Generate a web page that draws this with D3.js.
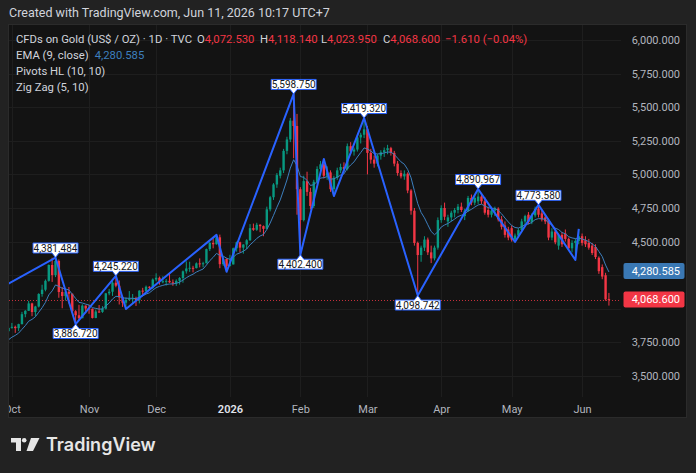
<!DOCTYPE html>
<html>
<head>
<meta charset="utf-8">
<script src="https://cdn.jsdelivr.net/npm/d3@7"></script>
<style>
  body { margin: 0; background: #222222; }
  svg { display: block; font-family: Roboto, "Noto Sans", sans-serif; }
</style>
</head>
<body>
<svg id="chart" width="696" height="473"></svg>
<script>
// ---- data ----
const firstDay = "2025-09-15";
const lastDay = "2026-06-11";
const tradingHolidays = ["2025-12-25", "2026-01-01", "2026-04-03"];

// daily bars [open, high, low, close], one per trading day
const ohlc = [
  // Sep 2025 (15 .. 30)
  [3636,3686,3633,3679],[3679,3703,3675,3690],[3690,3707,3646,3660],[3660,3672,3629,3644],
  [3644,3687,3640,3685],[3685,3749,3683,3746],[3746,3791,3736,3763],[3763,3779,3717,3736],
  [3736,3761,3722,3749],[3749,3782,3741,3760],[3760,3835,3758,3833],[3833,3871,3792,3858],
  // Oct
  [3858,3895,3852,3866],[3866,3875,3821,3856],[3856,3889,3835,3886],[3886,3977,3884,3960],
  [3960,3990,3937,3985],[3985,4059,3984,4040],[4040,4045,3945,3976],[3976,4022,3944,4017],
  [4017,4116,4010,4110],[4110,4179,4090,4142],[4142,4218,4130,4208],[4208,4330,4202,4326],
  [4326,4380,4200,4251],[4251,4381.484,4236,4356],[4356,4367,4082,4125],[4125,4162,4004,4095],
  [4095,4147,4061,4126],[4126,4162,4039,4112],[4112,4114,3970,3982],[3982,3990,3886.72,3952],
  [3952,4030,3916,3930],[3930,4034,3930,4024],[4024,4025,3967,4002],
  // Nov
  [4002,4030,3963,4000],[4000,4003,3928,3932],[3932,3994,3930,3980],[3980,4028,3970,3977],
  [3977,4020,3970,4001],[4001,4118,3995,4115],[4115,4148,4101,4127],[4127,4210,4096,4194],
  [4194,4245.22,4160,4172],[4172,4211,4032,4084],[4084,4095,4014,4045],[4045,4085,3998,4066],
  [4066,4132,4060,4077],[4077,4110,4040,4078],[4078,4090,4021,4065],[4065,4138,4040,4135],
  [4135,4156,4105,4131],[4131,4173,4125,4164],[4164,4168,4140,4156],[4156,4226,4148,4218],
  // Dec
  [4218,4264,4205,4231],[4231,4240,4180,4205],[4205,4242,4190,4205],[4205,4222,4173,4208],
  [4208,4259,4193,4197],[4197,4218,4171,4189],[4189,4219,4170,4208],[4208,4236,4180,4229],
  [4229,4285,4194,4279],[4279,4353,4262,4300],[4300,4350,4275,4305],[4305,4320,4271,4303],
  [4303,4345,4300,4338],[4338,4375,4308,4332],[4332,4350,4309,4339],[4339,4448,4338,4444],
  [4444,4497,4430,4490],[4490,4525,4450,4480],[4480,4550,4478,4532],[4532,4552,4302,4332],
  [4332,4384,4320,4372],[4372,4375,4275,4319],
  // Jan 2026
  [4319,4402,4315,4330],[4330,4455,4330,4450],[4450,4500,4425,4495],[4495,4500,4420,4455],
  [4455,4480,4410,4478],[4478,4518,4445,4510],[4510,4630,4505,4600],[4600,4634,4580,4588],
  [4588,4640,4580,4625],[4625,4630,4570,4615],[4615,4620,4540,4595],[4595,4760,4590,4740],
  [4740,4840,4725,4830],[4830,4935,4810,4925],[4925,5010,4900,4995],[4990,5050,4970,5030],
  [5030,5190,5010,5175],[5175,5280,5150,5260],[5260,5420,5240,5400],[5400,5598.75,5120,5360],
  [5360,5450,4700,4890],
  // Feb
  [4890,4905,4402.4,4660],[4660,4990,4650,4950],[4950,5020,4840,4870],[4870,4900,4740,4765],
  [4765,4960,4750,4945],[4945,5060,4930,5040],[5040,5100,5000,5075],[5075,5115,4970,4990],
  [4990,5060,4960,5015],[5015,5030,4870,4890],[4890,4990,4839,4975],[4975,5050,4960,5030],
  [5030,5080,5010,5055],[5055,5090,5020,5040],[5040,5230,5030,5210],[5210,5240,5150,5170],
  [5170,5200,5140,5185],[5185,5290,5170,5275],[5275,5310,5230,5295],[5295,5419.32,5270,5335],
  // Mar
  [5335,5360,5000,5160],[5160,5190,5080,5110],[5110,5140,5050,5080],[5080,5150,5060,5140],
  [5140,5180,5110,5165],[5165,5200,5130,5180],[5180,5220,5150,5195],[5195,5205,5140,5160],
  [5160,5175,5060,5080],[5080,5100,4990,5010],[5010,5030,4970,4985],[4985,5030,4960,5005],
  [5005,5015,4860,4880],[4880,4890,4700,4730],[4730,4750,4470,4490],[4490,4500,4098.742,4400],
  [4400,4470,4350,4455],[4455,4540,4430,4515],[4515,4530,4400,4420],[4420,4470,4340,4375],
  [4375,4470,4360,4455],[4455,4680,4440,4660],
  // Apr
  [4660,4770,4640,4750],[4750,4790,4660,4685],[4650,4700,4610,4680],[4680,4730,4650,4715],
  [4715,4750,4680,4735],[4735,4780,4710,4760],[4760,4790,4720,4735],[4690,4745,4660,4730],
  [4730,4840,4720,4825],[4825,4850,4770,4790],[4790,4850,4770,4825],[4800,4890.967,4780,4835],
  [4835,4860,4780,4800],[4800,4830,4700,4715],[4735,4760,4680,4700],[4700,4760,4680,4730],
  [4730,4760,4690,4745],[4745,4755,4650,4665],[4665,4690,4590,4610],[4620,4650,4530,4550],
  [4590,4610,4510,4530],
  // May
  [4600,4620,4500,4515],[4515,4560,4497,4545],[4545,4600,4530,4585],[4585,4670,4570,4650],
  [4650,4700,4620,4690],[4700,4720,4630,4645],[4645,4710,4630,4695],[4695,4760,4680,4745],
  [4745,4773.58,4680,4700],[4710,4730,4650,4665],[4680,4700,4630,4650],[4660,4670,4510,4530],
  [4530,4600,4510,4575],[4575,4600,4480,4495],[4470,4560,4440,4550],[4550,4570,4460,4480],
  [4560,4590,4500,4520],[4520,4530,4440,4450],[4450,4510,4420,4490],[4490,4520,4363,4505],
  [4505,4594,4480,4540],
  // Jun
  [4540,4560,4470,4490],[4510,4540,4460,4480],[4490,4520,4440,4455],[4470,4490,4400,4415],
  [4460,4480,4370,4385],[4380,4390,4260,4280],[4310,4330,4220,4240],[4250,4268,4060,4070.21],
  [4072.53,4118.14,4023.95,4068.6]
];

// zig zag (5, 10) vertices
const zigzag = [
  ["2025-09-15",4035],["2025-10-20",4381.484],["2025-10-28",3886.72],["2025-11-13",4245.22],
  ["2025-11-18",3998],["2025-12-26",4550],["2025-12-31",4275],["2026-01-29",5598.75],
  ["2026-02-02",4402.4],["2026-02-11",5115],["2026-02-16",4839],["2026-02-27",5419.32],
  ["2026-03-23",4098.742],["2026-04-17",4890.967],["2026-05-04",4497],["2026-05-13",4773.58],
  ["2026-05-28",4363],["2026-05-29",4594]
];

// pivots HL (10, 10)
const pivotHighs = [
  ["2025-10-20",4381.484],["2025-11-13",4245.22],["2026-01-29",5598.75],
  ["2026-02-27",5419.32],["2026-04-17",4890.967],["2026-05-13",4773.58]
];
const pivotLows = [["2025-10-28",3886.72],["2026-02-02",4402.4],["2026-03-23",4098.742]];

const priceTicks = [3500,3750,4000,4250,4500,4750,5000,5250,5500,5750,6000];
const lastEma = 4280.585;
const lastClose = 4068.6;
const legendOHLC = ["4,072.530","4,118.140","4,023.950","4,068.600"];
const legendChange = "\u22121.610 (\u22120.04%)";

// ---- build bars ----
const parseDay = d3.timeParse("%Y-%m-%d");
const fmtDay = d3.timeFormat("%Y-%m-%d");
const days = d3.timeDay.range(parseDay(firstDay), d3.timeDay.offset(parseDay(lastDay), 1))
  .filter(d => d.getDay() !== 0 && d.getDay() !== 6 && !tradingHolidays.includes(fmtDay(d)));

const bars = days.map((d, i) => ({
  date: d, key: fmtDay(d), i: i,
  o: ohlc[i][0], h: ohlc[i][1], l: ohlc[i][2], c: ohlc[i][3]
}));
const idxOf = new Map(bars.map(b => [b.key, b.i]));

// EMA 9 of close
let ema = null;
bars.forEach(b => { ema = ema === null ? b.c : b.c * 0.2 + ema * 0.8; b.ema = ema; });

// ---- layout ----
const W = 696, H = 473;
const pane = {x: 9, y: 25, w: 678, h: 393};
const plotRight = 621, plotBottom = 397;
const green = "#089981", red = "#f23645", zigBlue = "#2962ff", emaBlue = "#3d7fbe";
const textGrey = "#d1d4dc";

const svg = d3.select("#chart");
svg.append("rect").attr("width", W).attr("height", H).attr("fill", "#222222");
svg.append("rect")
  .attr("x", pane.x - 0.5).attr("y", pane.y - 0.5)
  .attr("width", pane.w).attr("height", pane.h)
  .attr("fill", "#131313").attr("stroke", "#2b2b2b");

const defs = svg.append("defs");
defs.append("clipPath").attr("id", "plotClip")
  .append("rect").attr("x", pane.x).attr("y", pane.y)
  .attr("width", plotRight - pane.x).attr("height", plotBottom - pane.y);
defs.append("clipPath").attr("id", "paneClip")
  .append("rect").attr("x", pane.x).attr("y", pane.y)
  .attr("width", pane.w - 1).attr("height", pane.h - 1);

const x = d3.scaleLinear()
  .domain([idxOf.get("2025-10-01"), idxOf.get("2026-06-01")])
  .range([11.9, 582.1]);
const y = d3.scaleLinear().domain([3500, 6000]).range([376, 40]);

// month ticks (first trading day of each month)
const monthStarts = bars.filter((b, k) => k > 0 && b.date >= parseDay("2025-10-01")
  && b.date.getMonth() !== bars[k - 1].date.getMonth());
const monthLabel = new Map(monthStarts.map(b =>
  [b.i, b.date.getMonth() === 0 ? d3.timeFormat("%Y")(b.date) : d3.timeFormat("%b")(b.date)]));

// grid
const grid = svg.append("g").attr("clip-path", "url(#plotClip)");
grid.selectAll(".vgrid").data(monthStarts).enter().append("line")
  .attr("x1", d => Math.round(x(d.i)) + 0.5).attr("x2", d => Math.round(x(d.i)) + 0.5)
  .attr("y1", pane.y).attr("y2", plotBottom)
  .attr("stroke", "#1e1e1e");
grid.selectAll(".hgrid").data(priceTicks).enter().append("line")
  .attr("x1", pane.x).attr("x2", plotRight)
  .attr("y1", d => Math.round(y(d)) + 0.5).attr("y2", d => Math.round(y(d)) + 0.5)
  .attr("stroke", "#1e1e1e");

const plot = svg.append("g").attr("clip-path", "url(#plotClip)");

// last price dotted line
plot.append("line")
  .attr("x1", pane.x).attr("x2", plotRight)
  .attr("y1", Math.round(y(lastClose)) + 0.5).attr("y2", Math.round(y(lastClose)) + 0.5)
  .attr("stroke", red).attr("stroke-dasharray", "1,2").attr("opacity", 0.8);

// candles
const bodyW = 2.4;
const candles = plot.selectAll(".candle").data(bars).enter().append("g");
candles.append("line")
  .attr("x1", d => x(d.i)).attr("x2", d => x(d.i))
  .attr("y1", d => y(d.h)).attr("y2", d => y(d.l))
  .attr("stroke", d => d.c >= d.o ? green : red).attr("stroke-width", 1);
candles.append("rect")
  .attr("x", d => x(d.i) - bodyW / 2)
  .attr("y", d => y(Math.max(d.o, d.c)))
  .attr("width", bodyW)
  .attr("height", d => Math.max(1, Math.abs(y(d.o) - y(d.c))))
  .attr("fill", d => d.c >= d.o ? green : red);

// EMA line
plot.append("path").datum(bars)
  .attr("d", d3.line().x(d => x(d.i)).y(d => y(d.ema)))
  .attr("fill", "none").attr("stroke", emaBlue).attr("stroke-width", 1);

// zig zag
plot.append("path").datum(zigzag)
  .attr("d", d3.line().x(d => x(idxOf.get(d[0]))).y(d => y(d[1])))
  .attr("fill", "none").attr("stroke", zigBlue).attr("stroke-width", 2)
  .attr("stroke-linejoin", "round");

// pivot labels
const fmtP = d3.format(",.3f");
function pivotLabel(d, high) {
  const g = svg.append("g")
    .attr("transform", `translate(${x(idxOf.get(d[0]))},${y(d[1])})`);
  const s = high ? -1 : 1;
  const bw = 45, bh = 10, tip = 4.5;
  const p = d3.path();
  p.moveTo(0, 0);
  p.lineTo(3.5, s * tip);
  p.lineTo(bw / 2, s * tip);
  p.lineTo(bw / 2, s * (tip + bh));
  p.lineTo(-bw / 2, s * (tip + bh));
  p.lineTo(-bw / 2, s * tip);
  p.lineTo(-3.5, s * tip);
  p.closePath();
  g.append("path").attr("d", p.toString())
    .attr("fill", "#ffffff").attr("stroke", zigBlue).attr("stroke-width", 1);
  g.append("text")
    .attr("x", 0).attr("y", s * (tip + bh / 2))
    .attr("dy", "0.35em").attr("text-anchor", "middle")
    .attr("font-size", 10).attr("fill", "#131722")
    .text(fmtP(d[1]));
}
pivotHighs.forEach(d => pivotLabel(d, true));
pivotLows.forEach(d => pivotLabel(d, false));

// x axis (clip in an outer group so the clip box stays in page coordinates)
const xAxis = svg.append("g").attr("clip-path", "url(#paneClip)")
  .append("g")
  .attr("transform", `translate(0,${plotBottom})`)
  .call(d3.axisBottom(x).tickValues(monthStarts.map(b => b.i))
    .tickFormat(i => monthLabel.get(i)).tickSize(0).tickPadding(8));
xAxis.select(".domain").remove();
xAxis.selectAll("text")
  .attr("font-family", "Roboto, sans-serif").attr("font-size", 11)
  .attr("fill", d => monthLabel.get(d).length === 4 ? "#e0e3eb" : "#b2b5be")
  .attr("font-weight", d => monthLabel.get(d).length === 4 ? 600 : 400);

// price axis; labels that sit under the value boxes are hidden as in the original
const boxed = [lastEma, lastClose];
const yAxis = svg.append("g")
  .attr("transform", `translate(${plotRight},0)`)
  .call(d3.axisRight(y).tickValues(priceTicks.filter(t => boxed.every(v => Math.abs(y(t) - y(v)) > 12)))
    .tickFormat(fmtP).tickSize(0));
yAxis.select(".domain").remove();
yAxis.selectAll("text")
  .attr("x", 59).attr("text-anchor", "end")
  .attr("font-family", "Roboto, sans-serif").attr("font-size", 11).attr("fill", "#b2b5be");

// value boxes on the price axis
function valueBox(v, fill, label) {
  svg.append("rect").attr("x", 623.5).attr("y", y(v) - 8).attr("width", 61).attr("height", 16)
    .attr("rx", 2).attr("fill", fill);
  svg.append("text").attr("x", 680).attr("y", y(v)).attr("dy", "0.35em")
    .attr("text-anchor", "end").attr("font-size", 11).attr("fill", "#ffffff").text(label);
}
valueBox(lastEma, "#3a78b4", fmtP(lastEma));
valueBox(lastClose, red, fmtP(lastClose));

// header
svg.append("text").attr("x", 9).attr("y", 17).attr("font-size", 12.5).attr("fill", textGrey)
  .text("Created with TradingView.com, Jun 11, 2026 10:17 UTC+7");

// legend
const legend = svg.append("g").attr("font-size", 11.3);
legend.append("text").attr("x", 16).attr("y", 43).attr("fill", textGrey)
  .text("CFDs on Gold (US$ / OZ) \u00b7 1D \u00b7 TVC");
const ohlcX = [197, 260, 321, 383];
["O", "H", "L", "C"].forEach((k, j) => {
  const t = legend.append("text").attr("x", ohlcX[j]).attr("y", 43);
  t.append("tspan").attr("fill", textGrey).text(k);
  t.append("tspan").attr("fill", red).text(legendOHLC[j]);
});
legend.append("text").attr("x", 445).attr("y", 43).attr("fill", red).text(legendChange);

const emaLegend = legend.append("text").attr("x", 16).attr("y", 59);
emaLegend.append("tspan").attr("fill", textGrey).text("EMA (9, close)");
emaLegend.append("tspan").attr("dx", 6).attr("fill", emaBlue).text(fmtP(lastEma));
legend.append("text").attr("x", 16).attr("y", 75).attr("fill", textGrey).text("Pivots HL (10, 10)");
legend.append("text").attr("x", 16).attr("y", 91).attr("fill", textGrey).text("Zig Zag (5, 10)");

// footer logo
const logo = svg.append("g").attr("fill", "#e6e6e6");
logo.append("path").attr("d", "M11,438H21V451H16V442.5H11Z");
logo.append("circle").attr("cx", 24.2).attr("cy", 440.3).attr("r", 2.3);
logo.append("path").attr("d", "M31,438H39.5L33,451H26.5Z");
svg.append("text").attr("x", 46).attr("y", 451).attr("font-family", "Inter, Roboto, sans-serif")
  .attr("font-size", 18).attr("font-weight", 600).attr("fill", "#e6e6e6").text("TradingView");
</script>
</body>
</html>
